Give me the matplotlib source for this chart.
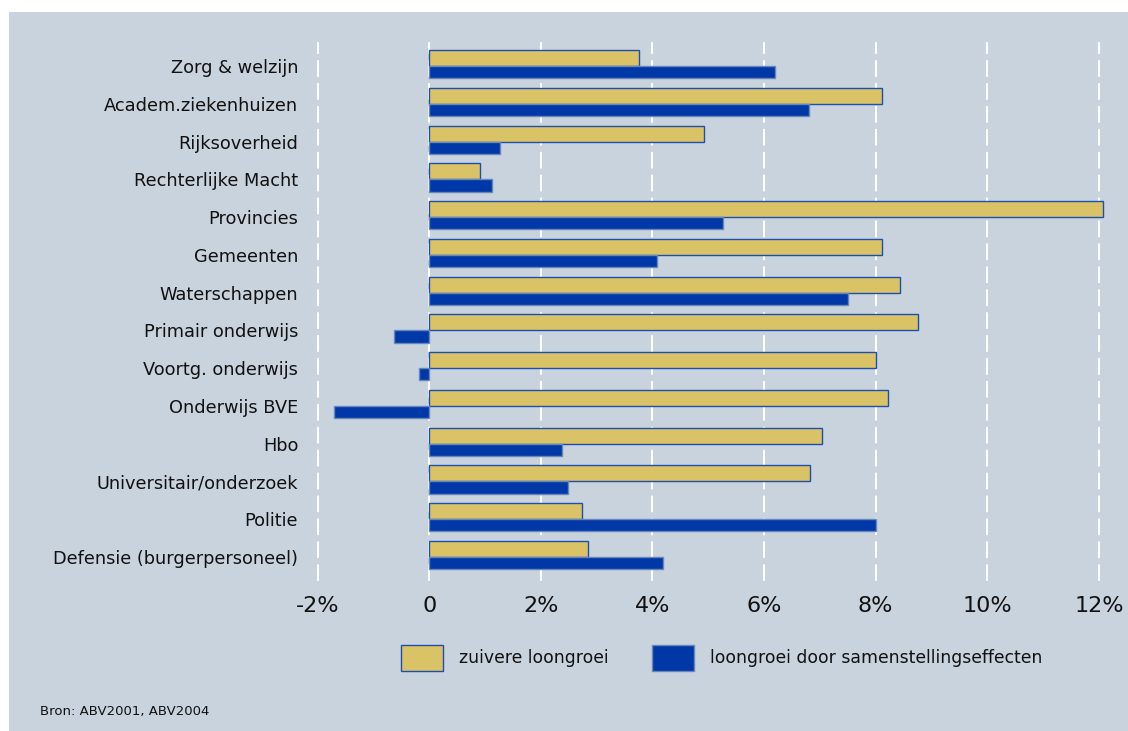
import numpy as np
import matplotlib
matplotlib.use('Agg')
import matplotlib.pyplot as plt
from matplotlib.patches import Rectangle, Patch

# data (percent)
categories = ['Zorg & welzijn', 'Academ.ziekenhuizen', 'Rijksoverheid', 'Rechterlijke Macht',
              'Provincies', 'Gemeenten', 'Waterschappen', 'Primair onderwijs',
              'Voortg. onderwijs', 'Onderwijs BVE', 'Hbo', 'Universitair/onderzoek',
              'Politie', 'Defensie (burgerpersoneel)']
zuivere = [3.76, 8.11, 4.92, 0.91, 12.07, 8.11, 8.43, 8.76, 8.0, 8.22, 7.04, 6.83, 2.74, 2.84]
samenstelling = [6.19, 6.80, 1.27, 1.12, 5.27, 4.08, 7.51, -0.63, -0.19, -1.71, 2.37, 2.49, 8.0, 4.19]
tick_values = [-2, 0, 2, 4, 6, 8, 10, 12]
tick_labels = ['-2%', '0', '2%', '4%', '6%', '8%', '10%', '12%']
legend_labels = ['zuivere loongroei', 'loongroei door samenstellingseffecten']

bg = '#c8d3de'
gold = '#d9c366'
blue = '#0038a8'
txt = '#111111'

fig = plt.figure(figsize=(11.28, 7.31), dpi=100, facecolor='white')
# light blue panel behind everything
panel = Rectangle((9 / 1128, 0), 1 - 9 / 1128, 1 - 12 / 731,
                  transform=fig.transFigure, facecolor=bg, edgecolor='none', zorder=-5)
fig.add_artist(panel)

ax = fig.add_axes([312.1 / 1128, 1 - 580.7 / 731, (1115.6 - 312.1) / 1128, (580.7 - 42) / 731])
ax.set_facecolor('none')
ax.set_zorder(2)

y = np.arange(len(categories))
# gold bar sits above the row line, blue bar below it
ax.barh(y, zuivere, height=-0.424, align='edge', color=gold, edgecolor='#1f4fae', linewidth=1.0, zorder=3)
ax.barh(y, samenstelling, height=0.326, align='edge', color=blue, edgecolor='#6a86b8', linewidth=1.0, zorder=3)

ax.set_xlim(-2.1, 12.3)
ax.set_ylim(13.63, -0.636)

ax.set_xticks(tick_values)
ax.set_xticklabels(tick_labels, fontsize=16, color=txt)
ax.set_yticks(y)
ax.set_yticklabels(categories, fontsize=12.8, color=txt)
ax.tick_params(axis='x', length=0, pad=11)
ax.tick_params(axis='y', length=0, pad=10)

ax.grid(axis='x', color='white', linestyle=(0, (8, 3)), linewidth=1.5)
ax.grid(axis='y', visible=False)
ax.set_axisbelow(True)
for s in ax.spines.values():
    s.set_visible(False)

handles = [Patch(facecolor=gold, edgecolor='#1f4fae', linewidth=1.0),
           Patch(facecolor=blue, edgecolor='#6a86b8', linewidth=1.0)]
leg = fig.legend(handles, legend_labels, loc='center left', bbox_to_anchor=(400.7 / 1128, 1 - 658 / 731),
                 ncol=2, frameon=False, fontsize=12.4, handlelength=2.48, handleheight=2.0,
                 handletextpad=0.91, columnspacing=2.5, borderpad=0, borderaxespad=0)
for t in leg.get_texts():
    t.set_color(txt)

fig.text(40 / 1128, 1 - 712 / 731, 'Bron: ABV2001, ABV2004', fontsize=9.5, va='center', ha='left', color=txt)

fig.savefig('out.png', dpi=100, facecolor='white')
